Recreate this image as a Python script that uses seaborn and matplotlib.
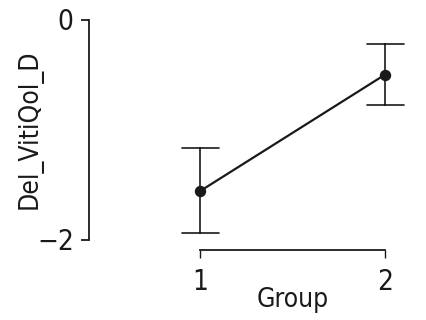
import numpy as np
import pandas as pd
import matplotlib
matplotlib.use("Agg")
import matplotlib.pyplot as plt
import seaborn as sns

groups = ["1", "2"]
means = [-1.56, -0.50]
lows = [-1.94, -0.78]
highs = [-1.17, -0.22]

sns.set_theme(style="ticks")
plt.rcParams['font.family'] = ['DejaVu Sans']
plt.rcParams['font.stretch'] = 'condensed'

rows = []
for g, lo, m, hi in zip(groups, lows, means, highs):
    for v in (lo, m, hi):
        rows.append({"Group": g, "Del_VitiQol_D": v})
df = pd.DataFrame(rows)

fig, ax = plt.subplots(figsize=(4.27, 3.2), dpi=100)
fig.subplots_adjust(left=99/427, right=413/427, top=1-19.5/320, bottom=1-239.5/320)

sns.pointplot(data=df, x="Group", y="Del_VitiQol_D", estimator=np.median,
              errorbar=("pi", 100), capsize=0.2, color="#1a1a1a",
              markersize=7, linewidth=1.6, err_kws={"linewidth": 1.2},
              ax=ax)

ax.set_xlim(-0.546, 1.15)
ax.set_ylim(-2, 0)
ax.set_yticks([-2, 0])
ax.set_yticklabels(["\u22122", "0"])
sns.despine(ax=ax)
ax.spines['left'].set_position(('outward', 7.2))
ax.spines['bottom'].set_position(('outward', 7.2))
ax.spines['bottom'].set_bounds(0, 1)
for s in ('left', 'bottom'):
    ax.spines[s].set_linewidth(1.3)
    ax.spines[s].set_color('#1a1a1a')
ax.tick_params(axis='y', length=6, width=1.3, labelsize=20, pad=5, colors='#1a1a1a')
ax.tick_params(axis='x', length=6, width=1.0, labelsize=20, pad=7, colors='#1a1a1a')
ax.set_xlabel("Group", fontsize=19, color='#1a1a1a')
ax.set_ylabel("Del_VitiQol_D", fontsize=19, color='#1a1a1a')
ax.xaxis.set_label_coords(0.616, -0.215)
ax.xaxis.label.set_va('top')
ax.yaxis.set_label_coords(-0.178, 0.5)

fig.savefig("out.png", dpi=100)
